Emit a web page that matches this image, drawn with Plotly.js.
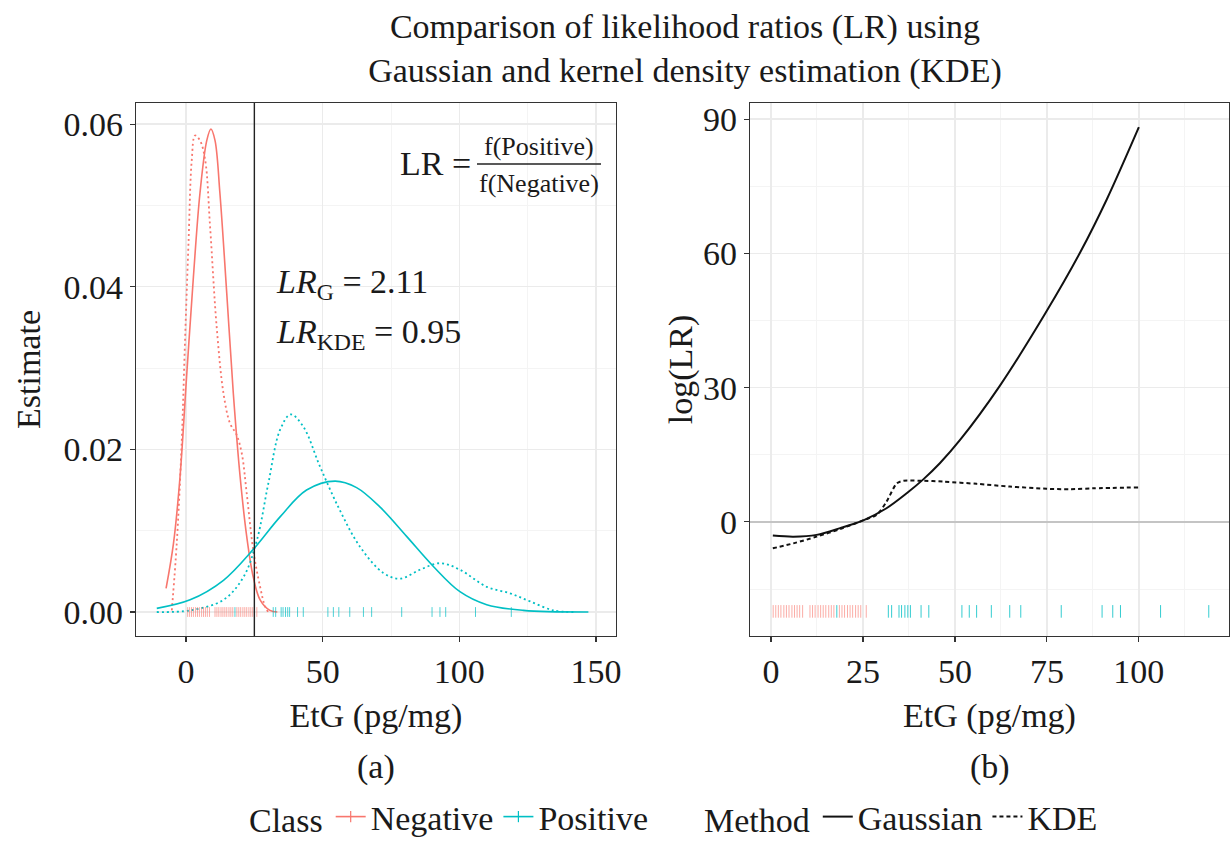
<!DOCTYPE html>
<html>
<head>
<meta charset="utf-8">
<script src="https://cdn.plot.ly/plotly-3.0.1.min.js"></script>
<style>html,body{margin:0;padding:0;background:#fff;}#chart{width:1231px;height:846px;}</style>
</head>
<body>
<div id="chart"></div>
<script>
// ---------- Panel (a): density estimates ----------
const negGaussX = [-7.3, -4.6, -2.2, 0.2, 2.7, 5.1, 7.6, 9.1, 10.6, 12.4, 14.9, 17.3, 19.8, 22.2, 24.6, 27.1, 30.7, 33.4];
const negGaussY = [0.0029, 0.0084, 0.0166, 0.0289, 0.0412, 0.0515, 0.0580, 0.0594, 0.0580, 0.0515, 0.0392, 0.0269, 0.0166, 0.0093, 0.0043, 0.0015, 0.0002, 0.0];

const negKdeX = [-5.2, -3.4, -1.6, -0.4, 0.9, 2.1, 3.3, 5.1, 7.0, 8.8, 11.2, 13.7, 16.1, 18.5, 20.4, 22.2, 24.6, 27.1, 28.9, 30.1];
const negKdeY = [0.0002, 0.0084, 0.0207, 0.0330, 0.0453, 0.0556, 0.0586, 0.0580, 0.0556, 0.0474, 0.0351, 0.0269, 0.0232, 0.0218, 0.0195, 0.0146, 0.0076, 0.0031, 0.0007, 0.0];

const posGaussX = [-10.7, 1.5, 13.7, 24.6, 34.4, 44.1, 54.5, 62.4, 71.0, 80.7, 90.5, 100.2, 110.0, 123.4, 147.2];
const posGaussY = [0.00045, 0.0015, 0.0039, 0.0077, 0.0117, 0.0150, 0.0161, 0.0153, 0.0129, 0.0093, 0.0056, 0.0025, 0.0009, 0.0002, 0.0];

const posKdeX = [-10.7, 1.5, 13.7, 21.0, 25.9, 30.1, 34.4, 38.3, 42.9, 49.0, 56.3, 63.7, 72.2, 78.3, 85.6, 93.0, 100.2, 110.0, 118.5, 125.9, 134.4, 141.7];
const posKdeY = [0.0, 0.0002, 0.0015, 0.0043, 0.0088, 0.0158, 0.0224, 0.0243, 0.0228, 0.0179, 0.0125, 0.0080, 0.0048, 0.0041, 0.0052, 0.0060, 0.0052, 0.0031, 0.0023, 0.0013, 0.0002, 0.0];

const cutoff = 25;

// ---------- Observations (rug) ----------
const negObs = [0.6, 1.3, 2.0, 2.7, 3.5, 4.2, 4.9, 5.7, 6.4, 7.1, 7.8, 8.6,
                10.6, 11.3, 12.0, 12.8, 13.5, 14.2, 14.9, 15.7, 16.4, 17.1,
                18.6, 19.3, 20.0, 20.8, 21.5, 22.2, 23.0, 23.7, 24.4, 25.9];
const posObs = [17.9, 31.9, 32.8, 34.8, 35.5, 36.4, 37.2, 37.9, 40.8, 42.9, 51.9, 53.9, 55.9,
                59.9, 64.9, 67.9, 78.9, 90.0, 92.9, 95.0, 105.9, 119.0];
const rugLevelA = 0;
const rugLevelB = -20;

// ---------- Panel (b): log likelihood ratio ----------
const lrGaussX = [0.5, 6.1, 12.4, 18.8, 25.4, 31.4, 36.9, 41.4, 45.9, 51.4, 62.2, 74.5, 84.1, 91.3, 100];
const lrGaussY = [-3.05, -3.3, -2.9, -1.4, 0.45, 3.05, 6.4, 9.5, 13.1, 18.3, 30.4, 46.5, 60.3, 72.1, 88.2];

const lrKdeX = [0.5, 6.1, 12.4, 18.8, 25.4, 28.7, 31.4, 34.2, 36.0, 40.5, 46.8, 55.9, 64.9, 74.9, 81.3, 87.6, 99.8];
const lrKdeY = [-5.9, -4.8, -3.3, -1.6, 0.45, 1.56, 4.5, 8.6, 9.2, 9.2, 9.0, 8.5, 7.9, 7.4, 7.3, 7.5, 7.7];

// ---------- Text ----------
const titleLines = ['Comparison of likelihood ratios (LR) using', 'Gaussian and kernel density estimation (KDE)'];
const xTitle = 'EtG (pg/mg)';
const yTitleA = 'Estimate';
const yTitleB = 'log(LR)';
const lrG = '2.11';
const lrKDE = '0.95';

const RED = '#F8766D';
const CYAN = '#00BFC4';
const FONT = 'Liberation Serif, Times New Roman, serif';
const TXT = '#1a1a1a';

const traces = [
  {x: negGaussX, y: negGaussY, mode: 'lines', line: {color: RED, width: 1.6, shape: 'spline', smoothing: 1}, xaxis: 'x', yaxis: 'y', showlegend: false},
  {x: negKdeX, y: negKdeY, mode: 'lines', line: {color: RED, width: 1.8, dash: '2px,3px', shape: 'spline', smoothing: 1}, xaxis: 'x', yaxis: 'y', showlegend: false},
  {x: posGaussX, y: posGaussY, mode: 'lines', line: {color: CYAN, width: 1.6, shape: 'spline', smoothing: 1}, xaxis: 'x', yaxis: 'y', showlegend: false},
  {x: posKdeX, y: posKdeY, mode: 'lines', line: {color: CYAN, width: 1.8, dash: '2px,3px', shape: 'spline', smoothing: 1}, xaxis: 'x', yaxis: 'y', showlegend: false},
  {x: negObs, y: negObs.map(() => rugLevelA), mode: 'markers', marker: {symbol: 'line-ns-open', size: 7, color: RED, opacity: 0.6, line: {color: RED, width: 1}}, xaxis: 'x', yaxis: 'y', showlegend: false},
  {x: posObs, y: posObs.map(() => rugLevelA), mode: 'markers', marker: {symbol: 'line-ns-open', size: 7, color: CYAN, opacity: 0.7, line: {color: CYAN, width: 1}}, xaxis: 'x', yaxis: 'y', showlegend: false},

  {x: lrGaussX, y: lrGaussY, mode: 'lines', name: 'Gaussian', line: {color: '#111', width: 2, shape: 'spline', smoothing: 0.9}, xaxis: 'x2', yaxis: 'y2', legend: 'legend2'},
  {x: lrKdeX, y: lrKdeY, mode: 'lines', name: 'KDE', line: {color: '#111', width: 2, dash: '4px,3px', shape: 'spline', smoothing: 0.8}, xaxis: 'x2', yaxis: 'y2', legend: 'legend2'},
  {x: negObs, y: negObs.map(() => rugLevelB), mode: 'markers', marker: {symbol: 'line-ns-open', size: 9, color: RED, opacity: 0.6, line: {color: RED, width: 1}}, xaxis: 'x2', yaxis: 'y2', showlegend: false},
  {x: posObs, y: posObs.map(() => rugLevelB), mode: 'markers', marker: {symbol: 'line-ns-open', size: 9, color: CYAN, opacity: 0.8, line: {color: CYAN, width: 1}}, xaxis: 'x2', yaxis: 'y2', showlegend: false},

  // legend-only entries for Class
  {x: [null], y: [null], mode: 'lines+markers', name: 'Negative', line: {color: RED, width: 1.6}, marker: {symbol: 'line-ns-open', size: 8, line: {color: RED, width: 1.2}}, xaxis: 'x', yaxis: 'y', legend: 'legend'},
  {x: [null], y: [null], mode: 'lines+markers', name: 'Positive', line: {color: CYAN, width: 1.6}, marker: {symbol: 'line-ns-open', size: 8, line: {color: CYAN, width: 1.2}}, xaxis: 'x', yaxis: 'y', legend: 'legend'}
];

const axisCommon = {
  showline: true, linecolor: '#333', linewidth: 1.3, mirror: true,
  ticks: 'outside', ticklen: 5, tickcolor: '#333', tickwidth: 1.2,
  showgrid: true, gridcolor: '#ebebeb', gridwidth: 1.3,
  zeroline: false, automargin: false,
  tickfont: {family: FONT, size: 34, color: TXT},
  title: {font: {family: FONT, size: 34, color: TXT}}
};
const minorGrid = (d) => ({dtick: d, showgrid: true, gridcolor: '#f4f4f4', gridwidth: 1, ticks: ''});

const H = 846, W = 1231;
const layout = {
  width: W, height: H,
  margin: {l: 0, r: 0, t: 0, b: 0},
  paper_bgcolor: '#fff', plot_bgcolor: '#fff',
  font: {family: FONT, size: 34, color: TXT},
  title: {text: titleLines.join('<br>'), font: {family: FONT, size: 34, color: TXT}, x: 685 / W, xanchor: 'center', xref: 'paper', y: 1 - 38 / H, yref: 'container', yanchor: 'top'},
  xaxis: Object.assign({}, axisCommon, {domain: [136 / W, 616 / W], range: [-18.3, 157.3], tickvals: [0, 50, 100, 150], minor: minorGrid(25), anchor: 'y',
    title: {text: xTitle, font: {family: FONT, size: 34, color: TXT}, standoff: 14}}),
  yaxis: Object.assign({}, axisCommon, {domain: [1 - 636 / H, 1 - 103 / H], range: [-0.00295, 0.0626], tickvals: [0, 0.02, 0.04, 0.06], tickformat: '.2f', minor: minorGrid(0.01), anchor: 'x',
    title: {text: yTitleA, font: {family: FONT, size: 34, color: TXT}, standoff: 12}}),
  xaxis2: Object.assign({}, axisCommon, {domain: [750 / W, 1229 / W], range: [-5.7, 124.5], tickvals: [0, 25, 50, 75, 100], minor: minorGrid(12.5), anchor: 'y2',
    title: {text: xTitle, font: {family: FONT, size: 34, color: TXT}, standoff: 14}}),
  yaxis2: Object.assign({}, axisCommon, {domain: [1 - 636 / H, 1 - 103 / H], range: [-25.5, 93.6], tickvals: [0, 30, 60, 90], minor: minorGrid(15), anchor: 'x2',
    zeroline: true, zerolinecolor: '#c4c4c4', zerolinewidth: 2,
    title: {text: yTitleB, font: {family: FONT, size: 34, color: TXT}, standoff: 0}}),
  shapes: [
    {type: 'line', xref: 'x', yref: 'y domain', x0: cutoff, x1: cutoff, y0: 0, y1: 1, line: {color: '#222', width: 1.4}},
    {type: 'line', xref: 'paper', yref: 'paper', x0: 477 / W, x1: 601 / W, y0: 1 - 164 / H, y1: 1 - 164 / H, line: {color: '#222', width: 1.4}}
  ],
  annotations: [
    {text: 'LR =', xref: 'paper', yref: 'paper', x: 398 / W, y: 1 - 163 / H, xanchor: 'left', yanchor: 'middle', showarrow: false, font: {family: FONT, size: 34, color: TXT}},
    {text: 'f(Positive)', xref: 'paper', yref: 'paper', x: 539 / W, y: 1 - 147 / H, xanchor: 'center', yanchor: 'middle', showarrow: false, font: {family: FONT, size: 26, color: TXT}},
    {text: 'f(Negative)', xref: 'paper', yref: 'paper', x: 539 / W, y: 1 - 183 / H, xanchor: 'center', yanchor: 'middle', showarrow: false, font: {family: FONT, size: 26, color: TXT}},
    {text: '<i>LR</i><sub>G</sub> = ' + lrG, xref: 'paper', yref: 'paper', x: 274 / W, y: 1 - 284 / H, xanchor: 'left', yanchor: 'middle', showarrow: false, font: {family: FONT, size: 34, color: TXT}},
    {text: '<i>LR</i><sub>KDE</sub> = ' + lrKDE, xref: 'paper', yref: 'paper', x: 274 / W, y: 1 - 334 / H, xanchor: 'left', yanchor: 'middle', showarrow: false, font: {family: FONT, size: 34, color: TXT}},
    {text: '(a)', xref: 'paper', yref: 'paper', x: 376 / W, y: 1 - 767 / H, xanchor: 'center', yanchor: 'middle', showarrow: false, font: {family: FONT, size: 34, color: TXT}},
    {text: '(b)', xref: 'paper', yref: 'paper', x: 990 / W, y: 1 - 767 / H, xanchor: 'center', yanchor: 'middle', showarrow: false, font: {family: FONT, size: 34, color: TXT}}
  ],
  legend: {orientation: 'h', x: 247 / W, y: 0, xanchor: 'left', yanchor: 'bottom', bgcolor: 'rgba(0,0,0,0)',
    title: {text: 'Class', side: 'left', font: {family: FONT, size: 34, color: TXT}}, font: {family: FONT, size: 34, color: TXT}, itemwidth: 30, tracegroupgap: 0},
  legend2: {orientation: 'h', x: 702 / W, y: 0, xanchor: 'left', yanchor: 'bottom', bgcolor: 'rgba(0,0,0,0)',
    title: {text: 'Method', side: 'left', font: {family: FONT, size: 34, color: TXT}}, font: {family: FONT, size: 34, color: TXT}, itemwidth: 30}
};

Plotly.newPlot('chart', traces, layout, {displayModeBar: false, staticPlot: true});
</script>
</body>
</html>
